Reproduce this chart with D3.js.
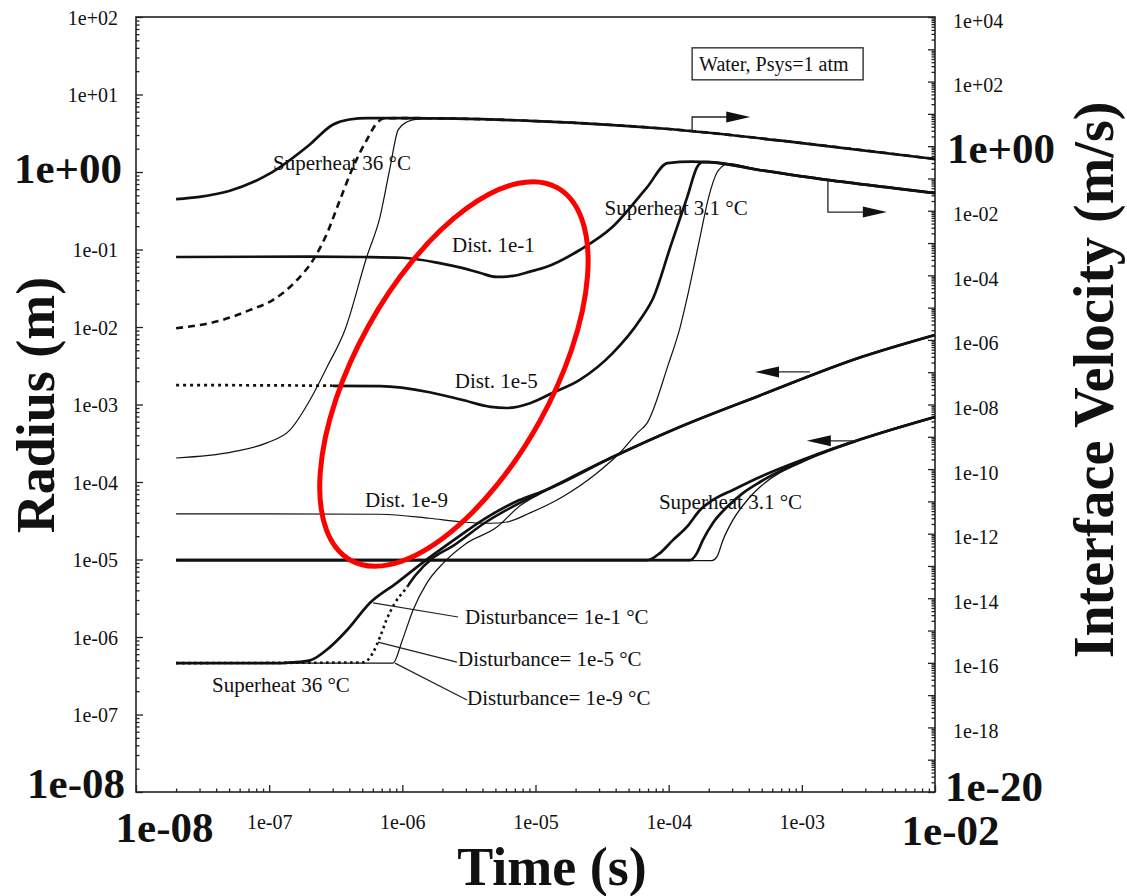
<!DOCTYPE html>
<html>
<head>
<meta charset="utf-8">
<script src="https://cdn.jsdelivr.net/npm/d3@7"></script>
<style>
  body { margin: 0; background: #fff; }
  svg { display: block; }
  text { font-family: "Liberation Serif", "Times New Roman", serif; fill: #111; }
</style>
</head>
<body>
<svg id="chart"></svg>
<script>
// Configuration
const width = 1127;
const height = 896;
const frame = { left: 136, right: 935, top: 17, bottom: 792 };

// Axis domains and labelled ticks
const timeDomain = [1e-8, 1e-2];
const radiusDomain = [1e-8, 1e2];
const velocityDomain = [1e-20, 1e4];
const timeTicks = [1e-8, 1e-7, 1e-6, 1e-5, 1e-4, 1e-3, 1e-2];
const radiusTicks = [1e2, 1e1, 1e0, 1e-1, 1e-2, 1e-3, 1e-4, 1e-5, 1e-6, 1e-7, 1e-8];
const velocityTicks = [1e4, 1e2, 1e0, 1e-2, 1e-4, 1e-6, 1e-8, 1e-10, 1e-12, 1e-14, 1e-16, 1e-18, 1e-20];

// Interface velocity (m/s), superheat 36 °C
const tV36a = [2e-8, 3e-8, 5e-8, 1e-7, 2e-7, 3e-7, 4e-7, 5.5e-7, 1e-6, 1e-5, 1e-4, 1e-3, 1e-2];
const vV36a = [0.023, 0.027, 0.041, 0.138, 1.09, 4.6, 6.7, 7.4, 7.4, 6.0, 3.4, 1.25, 0.40];
const tV36b = [2e-8, 4.5e-8, 7.2e-8, 1.07e-7, 1.62e-7, 2.14e-7, 2.72e-7, 3.4e-7, 4.27e-7, 5.4e-7, 6.45e-7, 7.2e-7, 1e-6, 1e-5, 1e-4, 1e-3, 1e-2];
const vV36b = [2.3e-6, 4.2e-6, 8.5e-6, 1.74e-5, 7.2e-5, 3.0e-4, 2.0e-3, 0.0215, 0.226, 1.55, 5.2, 7.2, 7.4, 6.0, 3.4, 1.25, 0.40];
const tV36c = [2e-8, 5.3e-8, 9.6e-8, 1.43e-7, 2.03e-7, 2.72e-7, 3.7e-7, 5.4e-7, 6.8e-7, 8.1e-7, 9.3e-7, 1.08e-6, 1.29e-6, 2e-6, 1e-5, 1e-4, 1e-3, 1e-2];
const vV36c = [2.2e-10, 3.4e-10, 6.5e-10, 1.6e-9, 1.4e-8, 1.45e-7, 2.0e-6, 3.7e-4, 6.5e-3, 0.226, 3.2, 5.6, 6.9, 7.4, 6.0, 3.4, 1.25, 0.40];

// Interface velocity (m/s), superheat 3.1 °C
const tV31a = [2e-8, 2e-7, 5e-7, 1e-6, 1.9e-6, 2.8e-6, 3.8e-6, 5.1e-6, 6.8e-6, 9.1e-6, 1.2e-5, 2.15e-5, 3.8e-5, 6.9e-5, 9.8e-5, 1.5e-4, 2.0e-4, 4.9e-4, 1.55e-3, 4.9e-3, 1e-2];
const vV31a = [3.7e-4, 3.8e-4, 3.7e-4, 3.5e-4, 2.4e-4, 1.7e-4, 1.2e-4, 8.9e-5, 9.6e-5, 1.3e-4, 1.8e-4, 6.1e-4, 3.2e-3, 0.054, 0.30, 0.33, 0.32, 0.18, 0.09, 0.05, 0.035];
const tV31b = [2e-8, 6.8e-7, 1.6e-6, 2.8e-6, 4.6e-6, 6.1e-6, 9.1e-6, 1.35e-5, 2.15e-5, 3.8e-5, 6.1e-5, 7.7e-5, 1.03e-4, 1.38e-4, 1.64e-4, 1.8e-4, 2.0e-4, 4.9e-4, 1.55e-3, 4.9e-3, 1e-2];
const vV31b = [4.0e-8, 3.7e-8, 2.4e-8, 1.4e-8, 8.4e-9, 7.8e-9, 1.1e-8, 2.3e-8, 5.8e-8, 3.9e-7, 4.2e-6, 2.1e-5, 7.6e-4, 0.027, 0.23, 0.32, 0.32, 0.18, 0.09, 0.05, 0.035];
const tV31c = [2e-8, 6.8e-7, 1.6e-6, 2.8e-6, 4.6e-6, 6.1e-6, 9.1e-6, 1.6e-5, 2.9e-5, 4.3e-5, 5.8e-5, 6.9e-5, 9.9e-5, 1.22e-4, 1.38e-4, 1.7e-4, 2.0e-4, 2.3e-4, 2.5e-4, 2.8e-4, 4.9e-4, 1.55e-3, 4.9e-3, 1e-2];
const vV31c = [4.1e-12, 4.0e-12, 3.0e-12, 2.3e-12, 2.1e-12, 2.3e-12, 4.4e-12, 1.4e-11, 7.6e-11, 3.2e-10, 1.3e-9, 2.7e-9, 1.66e-7, 2.5e-6, 2.1e-5, 1.2e-3, 0.027, 0.15, 0.23, 0.29, 0.18, 0.09, 0.05, 0.035];

// Radius (m), superheat 36 °C
const tR36a = [2e-8, 1.2e-7, 1.5e-7, 2.03e-7, 2.86e-7, 3.85e-7, 5.7e-7, 9.1e-7, 1.43e-6, 2.4e-6, 4.2e-6, 7.5e-6, 1.2e-5, 3.8e-5, 1.2e-4, 4.8e-4, 2.8e-3, 1e-2];
const rR36a = [4.6e-7, 4.6e-7, 4.7e-7, 5.0e-7, 7.4e-7, 1.23e-6, 2.75e-6, 5.0e-6, 9.2e-6, 1.75e-5, 3.4e-5, 5.8e-5, 7.9e-5, 2.1e-4, 5.1e-4, 1.3e-3, 4.1e-3, 7.9e-3];
const tR36b = [2e-8, 5.1e-7, 6.0e-7, 6.8e-7, 7.6e-7, 8.8e-7, 1.05e-6, 1.26e-6, 1.7e-6, 2.4e-6, 4.2e-6, 7.5e-6, 1.2e-5, 3.8e-5, 1.2e-4, 4.8e-4, 2.8e-3, 1e-2];
const rR36b = [4.6e-7, 4.7e-7, 6.2e-7, 1.0e-6, 1.66e-6, 2.75e-6, 4.1e-6, 6.3e-6, 1.05e-5, 1.5e-5, 3.0e-5, 5.3e-5, 7.9e-5, 2.1e-4, 5.1e-4, 1.3e-3, 4.1e-3, 7.9e-3];
const tR36c = [2e-8, 8.5e-7, 1.0e-6, 1.2e-6, 1.53e-6, 2.03e-6, 3.0e-6, 5.1e-6, 7.6e-6, 1.2e-5, 3.8e-5, 1.2e-4, 4.8e-4, 2.8e-3, 1e-2];
const rR36c = [4.6e-7, 4.6e-7, 9.1e-7, 2.2e-6, 5.0e-6, 9.0e-6, 1.6e-5, 2.6e-5, 4.9e-5, 7.7e-5, 2.1e-4, 5.1e-4, 1.3e-3, 4.1e-3, 7.9e-3];

// Radius (m), superheat 3.1 °C
const tR31a = [2e-8, 6.9e-5, 8.6e-5, 1.08e-4, 1.37e-4, 1.72e-4, 2.15e-4, 3.04e-4, 4.85e-4, 1.15e-3, 2.7e-3, 1e-2];
const rR31a = [9.8e-6, 9.8e-6, 1.21e-5, 1.79e-5, 2.63e-5, 4.36e-5, 5.86e-5, 7.9e-5, 1.16e-4, 2.1e-4, 3.5e-4, 6.9e-4];
const tR31b = [2e-8, 1.45e-4, 1.63e-4, 1.81e-4, 2.15e-4, 2.74e-4, 3.61e-4, 4.85e-4, 1.15e-3, 2.7e-3, 1e-2];
const rR31b = [9.8e-6, 9.8e-6, 1.21e-5, 1.79e-5, 2.96e-5, 4.75e-5, 7.2e-5, 1.0e-4, 2.05e-4, 3.5e-4, 6.9e-4];
const tR31c = [2e-8, 2.11e-4, 2.3e-4, 2.56e-4, 3.04e-4, 3.9e-4, 4.85e-4, 1.15e-3, 2.7e-3, 1e-2];
const rR31c = [9.8e-6, 9.7e-6, 1.08e-5, 1.79e-5, 3.24e-5, 5.86e-5, 8.6e-5, 2.0e-4, 3.5e-4, 6.9e-4];

// Text annotations (anchored in time / radius coordinates)
const labelTexts = ["Superheat 36 °C", "Dist. 1e-1", "Superheat 3.1 °C", "Dist. 1e-5", "Dist. 1e-9",
  "Superheat 3.1 °C", "Superheat 36 °C", "Disturbance= 1e-1 °C", "Disturbance= 1e-5 °C", "Disturbance= 1e-9 °C"];
const labelT = [1.07e-7, 2.36e-6, 3.3e-5, 2.48e-6, 5.25e-7, 8.45e-5, 3.72e-8, 2.96e-6, 2.62e-6, 3.06e-6];
const labelR = [1.06, 0.093, 0.279, 1.63e-3, 4.75e-5, 4.5e-5, 1.95e-7, 1.47e-6, 4.2e-7, 1.33e-7];

// Leader lines from curves to the "Disturbance" labels
const leaderFrom = [[6.03e-7, 2.75e-6], [6.56e-7, 8.6e-7], [8.8e-7, 4.6e-7]];
const leaderTo = [[2.62e-6, 1.81e-6], [2.57e-6, 4.75e-7], [3.06e-6, 1.54e-7]];

// Axis-pointer arrows: velocity ones go up/down then right, radius ones go left
const velArrows = [
  { from: [1.5e-4, 2.75], corner: 8.0, tip: 4.1e-4 },
  { from: [1.57e-3, 0.083], corner: 9.1e-3, tip: 4.35e-3 }
];
const radArrows = [
  { from: [1.15e-3, 2.63e-3], tip: 4.45e-4 },
  { from: [2.6e-3, 3.4e-4], tip: 1.09e-3 }
];

const legendText = "Water, Psys=1 atm";
const legendAt = [1.5e-4, 40];
const ellipseAt = [2.44e-6, 2.48e-3];

// Setup
const svg = d3.select("#chart")
  .attr("width", width)
  .attr("height", height);

const x = d3.scaleLog().domain(timeDomain).range([frame.left, frame.right]);
const yR = d3.scaleLog().domain(radiusDomain).range([frame.bottom, frame.top]);
const yV = d3.scaleLog().domain(velocityDomain).range([frame.bottom, frame.top]);

const fmtExp = d => {
  const e = Math.round(Math.log10(d));
  return "1e" + (e < 0 ? "-" : "+") + String(Math.abs(e)).padStart(2, "0");
};
const isExp = (d, e) => Math.abs(Math.log10(d) - e) < 1e-6;

function decades(domain) {
  const lo = Math.round(Math.log10(domain[0])), hi = Math.round(Math.log10(domain[1]));
  return d3.range(lo, hi + 1).map(e => +("1e" + e));
}
function minors(domain) {
  const lo = Math.round(Math.log10(domain[0])), hi = Math.round(Math.log10(domain[1]));
  const out = [];
  for (let e = lo; e < hi; e++) for (let k = 2; k <= 9; k++) out.push(+(k + "e" + e));
  return out;
}

// Axes (ticks point inward)
function styleAxis(g, size) {
  g.select(".domain").remove();
  g.attr("font-family", null).attr("font-size", size);
  g.selectAll(".tick line").attr("stroke", "#222").attr("stroke-width", 1.3);
}

svg.append("g").attr("transform", `translate(${frame.left},0)`)
  .call(d3.axisLeft(yR).tickValues(minors(radiusDomain)).tickSize(-3.5).tickFormat(""))
  .call(g => styleAxis(g, 20));
const leftAxis = svg.append("g").attr("transform", `translate(${frame.left},0)`)
  .call(d3.axisLeft(yR).tickValues(radiusTicks).tickSize(-7).tickPadding(18).tickFormat(fmtExp))
  .call(g => styleAxis(g, 20));
leftAxis.selectAll(".tick text").attr("dy", "0.35em");

svg.append("g").attr("transform", `translate(${frame.right},0)`)
  .call(d3.axisRight(yV).tickValues(minors(velocityDomain)).tickSize(-3.5).tickFormat(""))
  .call(g => styleAxis(g, 20));
const rightAxis = svg.append("g").attr("transform", `translate(${frame.right},0)`)
  .call(d3.axisRight(yV).tickValues(decades(velocityDomain)).tickSize(-7).tickPadding(18)
    .tickFormat(d => velocityTicks.some(v => isExp(v, Math.log10(d))) ? fmtExp(d) : ""))
  .call(g => styleAxis(g, 20));
rightAxis.selectAll(".tick text").attr("dy", "0.5em");

svg.append("g").attr("transform", `translate(0,${frame.bottom})`)
  .call(d3.axisBottom(x).tickValues(minors(timeDomain)).tickSize(-3.5).tickFormat(""))
  .call(g => styleAxis(g, 20));
const bottomAxis = svg.append("g").attr("transform", `translate(0,${frame.bottom})`)
  .call(d3.axisBottom(x).tickValues(timeTicks).tickSize(-7).tickPadding(23).tickFormat(fmtExp))
  .call(g => styleAxis(g, 20));

// Enlarged end labels (pasted over the originals in the figure)
function enlarge(sel, dx, dy) {
  sel.attr("font-size", 43).attr("font-weight", "bold")
    .attr("x", dx).attr("y", dy).attr("dy", 0);
}
enlarge(leftAxis.selectAll(".tick text").filter(d => isExp(d, 0)), -14, 10);
enlarge(leftAxis.selectAll(".tick text").filter(d => isExp(d, -8)), -11, 5);
enlarge(rightAxis.selectAll(".tick text").filter(d => isExp(d, 0)), 12, 16);
enlarge(rightAxis.selectAll(".tick text").filter(d => isExp(d, -20)), 10, 8);
enlarge(bottomAxis.selectAll(".tick text").filter(d => isExp(d, -8)), 28, 50);
enlarge(bottomAxis.selectAll(".tick text").filter(d => isExp(d, -2)), 15, 53);

// Frame
svg.append("rect")
  .attr("x", frame.left).attr("y", frame.top)
  .attr("width", frame.right - frame.left).attr("height", frame.bottom - frame.top)
  .attr("fill", "none").attr("stroke", "#222").attr("stroke-width", 1.6);

// Curves
const zip = (ts, vs) => ts.map((t, i) => ({ t, v: vs[i] }));
const series = [
  { data: zip(tV36c, vV36c), y: yV, w: 1.2 },
  { data: zip(tV31c, vV31c), y: yV, w: 1.2 },
  { data: zip(tR36c, rR36c), y: yR, w: 1.2 },
  { data: zip(tR31c, rR31c), y: yR, w: 1.3 },
  { data: zip(tV36a, vV36a), y: yV, w: 2.7 },
  { data: zip(tV36b, vV36b), y: yV, w: 2.6, dash: "7,5", dotUntil: 1e-2 },
  { data: zip(tV31a, vV31a), y: yV, w: 2.7 },
  { data: zip(tV31b, vV31b), y: yV, w: 2.7, dash: "3,4", dotUntil: 3e-7 },
  { data: zip(tR36a, rR36a), y: yR, w: 2.7 },
  { data: zip(tR36b, rR36b), y: yR, w: 2.6, dash: "2.5,3.5", dotUntil: 1.1e-6 },
  { data: zip(tR31a, rR31a), y: yR, w: 2.7 },
  { data: zip(tR31b, rR31b), y: yR, w: 2.7 }
];

const defs = svg.append("defs");
const curves = svg.append("g").attr("fill", "none").attr("stroke", "#111")
  .attr("stroke-linejoin", "round");

series.forEach((s, i) => {
  const line = d3.line().x(d => x(d.t)).y(d => s.y(d.v)).curve(d3.curveMonotoneX);
  if (!s.dash) {
    curves.append("path").attr("d", line(s.data)).attr("stroke-width", s.w);
    return;
  }
  const xs = x(s.dotUntil);
  defs.append("clipPath").attr("id", `dot${i}`).append("rect")
    .attr("x", 0).attr("y", 0).attr("width", xs).attr("height", height);
  defs.append("clipPath").attr("id", `solid${i}`).append("rect")
    .attr("x", xs).attr("y", 0).attr("width", width - xs).attr("height", height);
  curves.append("path").attr("d", line(s.data)).attr("stroke-width", s.w)
    .attr("stroke-dasharray", s.dash).attr("clip-path", `url(#dot${i})`);
  curves.append("path").attr("d", line(s.data)).attr("stroke-width", s.w)
    .attr("clip-path", `url(#solid${i})`);
});

// Leader lines
svg.append("g").selectAll("line")
  .data(leaderFrom)
  .enter()
  .append("line")
  .attr("x1", d => x(d[0])).attr("y1", d => yR(d[1]))
  .attr("x2", (d, i) => x(leaderTo[i][0])).attr("y2", (d, i) => yR(leaderTo[i][1]))
  .attr("stroke", "#222").attr("stroke-width", 1.2);

// Arrows
const arrows = svg.append("g");
function head(xt, y, dir) {
  const len = 24, hw = 5.5;
  return `M${xt},${y}L${xt - dir * len},${y - hw}L${xt - dir * len},${y + hw}Z`;
}
velArrows.forEach(a => {
  const x0 = x(a.from[0]), y0 = yV(a.from[1]), y1 = yV(a.corner), xt = x(a.tip);
  arrows.append("path").attr("d", `M${x0},${y0}V${y1}H${xt - 10}`)
    .attr("fill", "none").attr("stroke", "#222").attr("stroke-width", 1.3);
  arrows.append("path").attr("d", head(xt, y1, 1)).attr("fill", "#111");
});
radArrows.forEach(a => {
  const x0 = x(a.from[0]), y0 = yR(a.from[1]), xt = x(a.tip);
  arrows.append("path").attr("d", `M${x0},${y0}H${xt + 10}`)
    .attr("fill", "none").attr("stroke", "#222").attr("stroke-width", 1.3);
  arrows.append("path").attr("d", head(xt, y0, -1)).attr("fill", "#111");
});

// Labels
svg.append("g").selectAll("text")
  .data(labelTexts)
  .enter()
  .append("text")
  .attr("x", (d, i) => x(labelT[i]))
  .attr("y", (d, i) => yR(labelR[i]))
  .attr("font-size", 21)
  .text(d => d);

// Legend box
const lg = svg.append("g")
  .attr("transform", `translate(${x(legendAt[0])},${yR(legendAt[1])})`);
lg.append("rect").attr("width", 171).attr("height", 32)
  .attr("fill", "#fff").attr("stroke", "#222").attr("stroke-width", 1.3);
lg.append("text").attr("x", 7).attr("y", 23).attr("font-size", 20).text(legendText);

// Axis titles
svg.append("text")
  .attr("x", 552).attr("y", 885)
  .attr("text-anchor", "middle")
  .attr("font-size", 54).attr("font-weight", "bold")
  .text("Time (s)");
svg.append("text")
  .attr("transform", "translate(54,405) rotate(-90)")
  .attr("text-anchor", "middle")
  .attr("font-size", 54).attr("font-weight", "bold")
  .text("Radius (m)");
svg.append("text")
  .attr("transform", "translate(1113,380) rotate(-90)")
  .attr("text-anchor", "middle")
  .attr("font-size", 56).attr("font-weight", "bold")
  .text("Interface Velocity (m/s)");

// Red highlight ellipse
svg.append("ellipse")
  .attr("transform", `translate(${x(ellipseAt[0])},${yR(ellipseAt[1])}) rotate(-61)`)
  .attr("rx", 213).attr("ry", 98)
  .attr("fill", "none").attr("stroke", "#f00").attr("stroke-width", 5);
</script>
</body>
</html>
